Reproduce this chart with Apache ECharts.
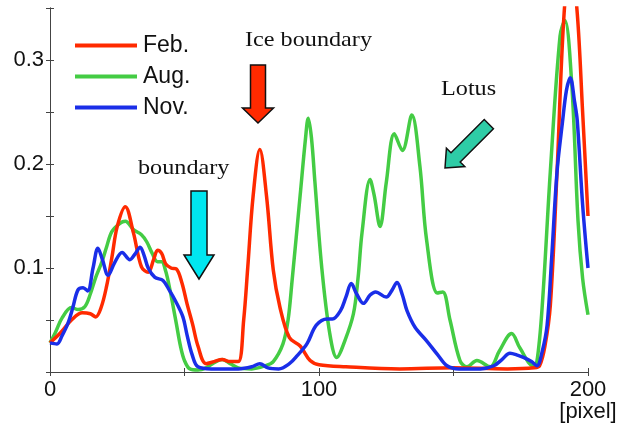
<!DOCTYPE html>
<html>
<head>
<meta charset="utf-8">
<script src="https://cdn.jsdelivr.net/npm/echarts@6/dist/echarts.min.js"></script>
<style>html,body{margin:0;padding:0;background:#fff;}#c{width:628px;height:424px;}</style>
</head>
<body>
<div id="c"></div>
<script>
const seriesNames = ['Feb.', 'Aug.', 'Nov.'];
const xTicks = [0, 100, 200];
const yTicks = [0.1, 0.2, 0.3];
const xName = '[pixel]';

const feb = [[0,0.028],[4,0.038],[8,0.05],[12,0.057],[15,0.056],[17,0.053],[19,0.062],[21,0.082],[23,0.11],[25,0.14],[28,0.159],[31,0.134],[34,0.101],[36.5,0.096],[38.5,0.108],[40,0.117],[41.5,0.114],[43,0.104],[45,0.1],[47,0.099],[49,0.086],[51,0.065],[53,0.046],[55,0.025],[58,0.008],[61,0.01],[64,0.012],[67,0.01],[70,0.01],[72,0.05],[73.5,0.1],[75.5,0.169],[78,0.214],[80.5,0.169],[83,0.098],[85.5,0.062],[89,0.033],[93,0.025],[96.7,0.011],[100,0.007],[110,0.005],[130,0.003],[150,0.004],[170,0.003],[180,0.004],[182,0.006],[184,0.025],[186,0.064],[188.5,0.193],[191,0.34],[193.5,0.4],[196,0.345],[198,0.25],[200,0.15]];

const aug = [[0,0.028],[2,0.038],[4.5,0.052],[8,0.062],[10.5,0.06],[13,0.063],[15,0.075],[17,0.091],[19.3,0.106],[21,0.12],[23,0.135],[26,0.143],[28,0.145],[31,0.137],[34,0.132],[36,0.125],[38,0.114],[40,0.106],[41.5,0.106],[43,0.097],[44.6,0.079],[46,0.06],[47,0.046],[48.5,0.025],[50,0.011],[52,0.003],[55,0.002],[58,0.004],[61,0.009],[64,0.012],[67,0.008],[70,0.004],[75,0.003],[80,0.006],[83,0.01],[86.6,0.027],[88.5,0.05],[90,0.088],[93,0.17],[95,0.225],[96,0.244],[97.2,0.225],[98.5,0.182],[101,0.101],[104,0.037],[106.6,0.014],[109.6,0.03],[112.8,0.056],[114.5,0.09],[116,0.134],[119,0.185],[120.5,0.17],[122.7,0.14],[125,0.182],[128,0.229],[131,0.213],[134.5,0.247],[137.5,0.198],[140,0.127],[144,0.076],[146,0.077],[148.7,0.05],[152.4,0.011],[155,0.005],[158.7,0.011],[163.6,0.005],[167,0.02],[171.6,0.037],[174.7,0.023],[179.6,0.006],[181,0.01],[183,0.064],[186,0.193],[189.6,0.323],[191.4,0.338],[194,0.275],[196.3,0.145],[198,0.09],[200,0.055]];

const nov = [[0,0.028],[2.6,0.027],[4.5,0.035],[6.7,0.047],[8.5,0.062],[10.4,0.079],[12.3,0.081],[14,0.078],[16,0.1],[17.8,0.119],[19.5,0.108],[21.6,0.093],[24,0.105],[26.8,0.115],[29.7,0.108],[31.5,0.113],[33.5,0.12],[35,0.112],[36.5,0.1],[39,0.091],[42,0.088],[44.5,0.078],[46.5,0.069],[49.4,0.053],[51,0.035],[52.8,0.017],[55,0.005],[60,0.003],[70,0.003],[75,0.005],[78,0.008],[81,0.004],[85,0.003],[89,0.008],[92,0.016],[95.5,0.027],[99,0.045],[103,0.051],[105,0.051],[108,0.059],[110,0.072],[112,0.085],[114,0.075],[116.5,0.066],[119,0.074],[121,0.077],[125,0.072],[127,0.078],[129,0.086],[131,0.074],[132.7,0.059],[135.7,0.043],[140,0.03],[144,0.017],[147.6,0.006],[152,0.003],[160,0.003],[165,0.006],[168,0.012],[171,0.018],[174,0.016],[176,0.014],[179,0.01],[181,0.006],[183,0.02],[184.8,0.045],[186.5,0.11],[188.5,0.193],[190.5,0.24],[192,0.271],[193.4,0.283],[195,0.26],[196,0.242],[198,0.161],[200,0.1]];

const colors = ['#ff2a00', '#44cc44', '#1a2ee8'];
const axisColor = '#444';
const sans = 'Liberation Sans, Arial, sans-serif';
const serif = 'Liberation Serif, Times New Roman, serif';

function arrowDown(cx, top, shaftEnd, tip, sw, hw) {
  return [[cx - sw, top], [cx + sw, top], [cx + sw, shaftEnd], [cx + hw, shaftEnd], [cx, tip], [cx - hw, shaftEnd], [cx - sw, shaftEnd]];
}

const chart = echarts.init(document.getElementById('c'), null, {renderer: 'canvas'});
const mk = (name, data, color, z) => ({
  name, type: 'line', data, symbol: 'none', smooth: 0.35, clip: true, z,
  lineStyle: {color, width: 3.5}, itemStyle: {color}
});
chart.setOption({
  animation: false,
  grid: {left: 50, right: 40, top: 8, bottom: 52},
  legend: {
    left: 70, top: 29, orient: 'vertical', itemWidth: 62, itemHeight: 4, itemGap: 8,
    icon: 'rect',
    data: seriesNames,
    textStyle: {fontFamily: sans, fontSize: 23, color: '#111', padding: [0, 0, 0, 1]},
  },
  xAxis: [{
    type: 'value', min: 0, max: 200, interval: 50,
    name: xName, nameLocation: 'end', nameGap: 0,
    nameTextStyle: {fontFamily: sans, fontSize: 22, color: '#111', align: 'center', verticalAlign: 'top', padding: [29, 0, 0, 0]},
    axisLine: {show: true, lineStyle: {color: axisColor, width: 1}},
    axisTick: {show: true, inside: true, length: 4, lineStyle: {color: axisColor}},
    axisLabel: {fontFamily: sans, fontSize: 22, color: '#111', margin: 7,
      formatter: v => (xTicks.includes(v) ? String(v) : '')},
    splitLine: {show: false}
  }, {
    type: 'value', position: 'top', min: 0, max: 200, interval: 50,
    axisLine: {show: true, lineStyle: {color: axisColor, width: 1}},
    axisTick: {show: true, inside: true, length: 4, lineStyle: {color: axisColor}},
    axisLabel: {show: false}, splitLine: {show: false}
  }],
  yAxis: [{
    type: 'value', min: 0, max: 0.35, interval: 0.05,
    axisLine: {show: true, lineStyle: {color: axisColor, width: 1}},
    axisTick: {show: true, inside: true, length: 4, lineStyle: {color: axisColor}},
    axisLabel: {fontFamily: sans, fontSize: 22, color: '#111', margin: 6,
      formatter: v => (yTicks.some(t => Math.abs(t - v) < 1e-6) ? v.toFixed(1) : '')},
    splitLine: {show: false}
  }, {
    type: 'value', position: 'right', min: 0, max: 0.35, interval: 0.05,
    axisLine: {show: true, lineStyle: {color: axisColor, width: 1}},
    axisTick: {show: true, inside: true, length: 4, lineStyle: {color: axisColor}},
    axisLabel: {show: false}, splitLine: {show: false}
  }],
  series: [mk('Aug.', aug, colors[1], 2), mk('Feb.', feb, colors[0], 3), mk('Nov.', nov, colors[2], 4)],
  graphic: [
    {type: 'text', left: 245, top: 29, z: 10, style: {text: 'Ice boundary', font: '22px ' + serif, fill: '#111'}, scaleX: 1.1},
    {type: 'text', left: 138, top: 157, z: 10, style: {text: 'boundary', font: '22px ' + serif, fill: '#111'}, scaleX: 1.1},
    {type: 'text', left: 441, top: 78, z: 10, style: {text: 'Lotus', font: '22px ' + serif, fill: '#111'}, scaleX: 1.1},
    {type: 'polygon', z: 10, shape: {points: arrowDown(258, 65, 108, 123, 7.5, 15.5)}, style: {fill: '#ff2a00', stroke: '#111', lineWidth: 1.5}},
    {type: 'polygon', z: 10, shape: {points: arrowDown(199, 191, 255, 279, 8, 15)}, style: {fill: '#00e6f0', stroke: '#111', lineWidth: 1.5}},
    {type: 'polygon', z: 10, x: 445, y: 168, rotation: -Math.PI / 4,
      shape: {points: [[0, 0], [-13, -15], [-6.5, -15], [-6.5, -62], [6.5, -62], [6.5, -15], [13, -15]]},
      style: {fill: '#2ecca6', stroke: '#111', lineWidth: 1.5}}
  ]
});
</script>
</body>
</html>
